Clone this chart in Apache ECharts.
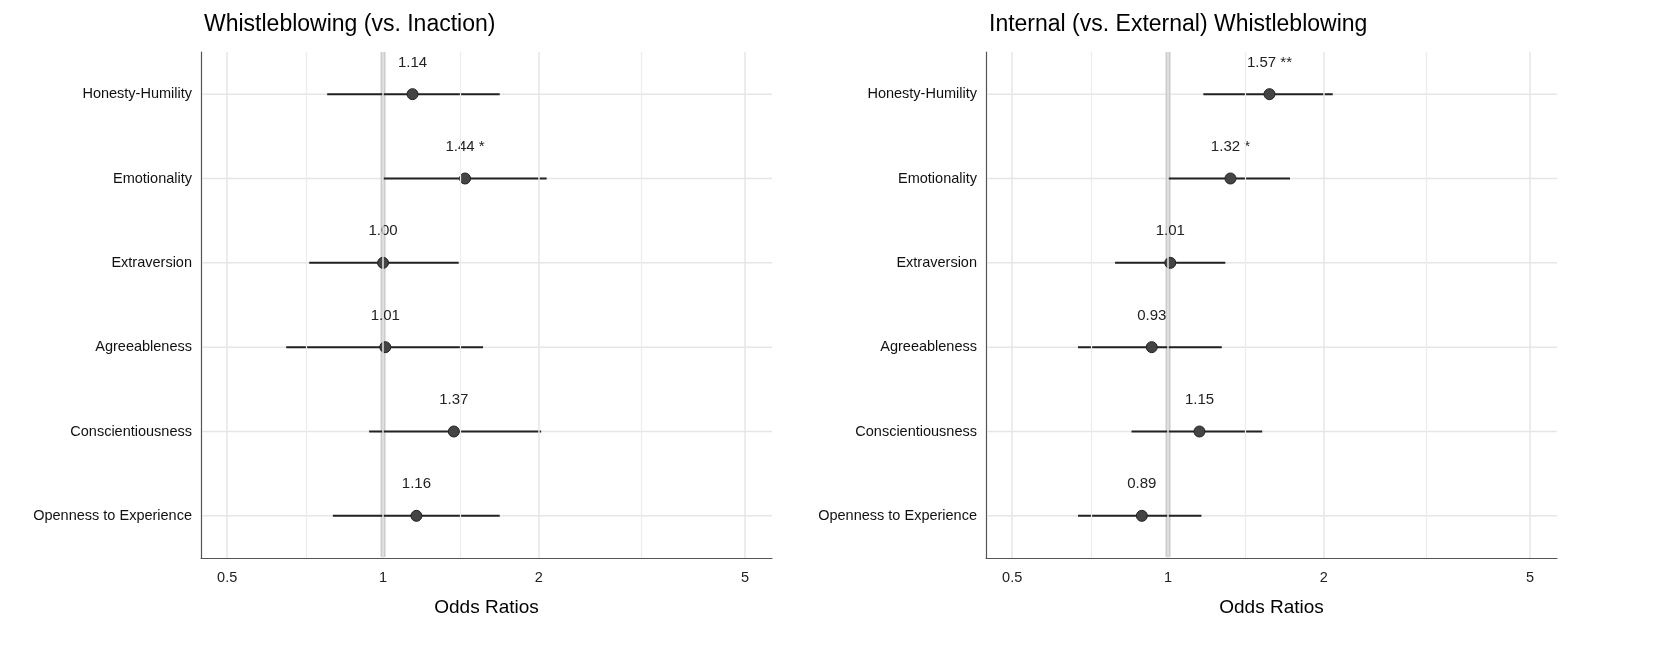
<!DOCTYPE html>
<html>
<head>
<meta charset="utf-8">
<script src="https://cdn.jsdelivr.net/npm/echarts@6/dist/echarts.min.js"></script>
<style>html,body{margin:0;padding:0;background:#fff}#chart{width:1654px;height:651px}</style>
</head>
<body>
<div id="chart"></div>
<script>
// 类别（自上而下）
const traits = ['Honesty-Humility', 'Emotionality', 'Extraversion', 'Agreeableness', 'Conscientiousness', 'Openness to Experience'];
const titles = ['Whistleblowing (vs. Inaction)', 'Internal (vs. External) Whistleblowing'];
// 左图：估计值 / 置信区间 / 显著性
const orLeft = [1.14, 1.44, 1.00, 1.01, 1.37, 1.16];
const lowLeft = [0.78, 1.00, 0.72, 0.65, 0.94, 0.80];
const highLeft = [1.68, 2.07, 1.40, 1.56, 2.02, 1.68];
const sigLeft = ['', '*', '', '', '', ''];
// 右图
const orRight = [1.57, 1.32, 1.01, 0.93, 1.15, 0.89];
const lowRight = [1.17, 1.00, 0.79, 0.67, 0.85, 0.67];
const highRight = [2.08, 1.72, 1.29, 1.27, 1.52, 1.16];
const sigRight = ['**', '*', '', '', '', ''];
// 刻度
const tickMajor = [0.5, 1, 2, 5];
const tickMinor = [0.7071, 1.4142, 3.1623];

const font = 'Arial, "Liberation Sans", sans-serif';
const xMin = 0.445, xMax = 5.64;
const panels = [
  {left: 201, or: orLeft, low: lowLeft, high: highLeft, sig: sigLeft},
  {left: 986, or: orRight, low: lowRight, high: highRight, sig: sigRight}
];

const grid = [], xAxis = [], yAxis = [], series = [], title = [];
panels.forEach((p, i) => {
  grid.push({left: p.left, width: 571, top: 52, height: 506});
  title.push({text: titles[i], left: p.left - 2, top: 8, textStyle: {fontFamily: font, fontSize: 23, fontWeight: 'normal', color: '#000'}});
  xAxis.push({
    type: 'log', gridIndex: i, min: xMin, max: xMax,
    name: 'Odds Ratios', nameLocation: 'middle', nameGap: 40,
    nameTextStyle: {fontFamily: font, fontSize: 19, color: '#000'},
    axisLabel: {show: false}, axisTick: {show: false}, splitLine: {show: false},
    axisLine: {show: true, onZero: false, lineStyle: {color: '#555', width: 1.2}}
  });
  yAxis.push({
    type: 'category', gridIndex: i, data: traits, inverse: true,
    axisTick: {show: false},
    axisLine: {show: true, onZero: false, lineStyle: {color: '#555', width: 1.2}},
    axisLabel: {fontFamily: font, fontSize: 14.5, color: '#111', margin: 9},
    splitLine: {show: false}
  });
  // 网格线和刻度标签
  const gridLines = tickMajor.map(v => ({
    xAxis: v, lineStyle: {color: '#e6e6e6', width: 1.5, type: 'solid'},
    label: {show: true, position: 'end', distance: 12, formatter: String(v), fontFamily: font, fontSize: 14.5, color: '#222'}
  })).concat(tickMinor.map(v => ({
    xAxis: v, lineStyle: {color: '#ececec', width: 1.2, type: 'solid'}, label: {show: false}
  })));
  series.push({
    type: 'line', xAxisIndex: i, yAxisIndex: i, data: [], z: 1,
    markLine: {silent: true, symbol: 'none', animation: false, data: gridLines}
  });
  // 横向网格线
  series.push({
    type: 'custom', xAxisIndex: i, yAxisIndex: i, z: 1, silent: true,
    data: traits.map((t, k) => [k]),
    renderItem: (params, api) => {
      const c = api.coord([xMin, api.value(0)]);
      const c2 = api.coord([xMax, api.value(0)]);
      return {type: 'line', shape: {x1: c[0] + 1, y1: c[1], x2: c2[0], y2: c2[1]}, style: {stroke: '#e6e6e6', lineWidth: 1.5}};
    }
  });
  // 参考线 OR = 1
  series.push({
    type: 'custom', xAxisIndex: i, yAxisIndex: i, z: 2, silent: true,
    data: [[1]],
    renderItem: (params, api) => {
      const x = api.coord([api.value(0), 0])[0];
      const cs = params.coordSys;
      return {type: 'line', shape: {x1: x, y1: cs.y, x2: x, y2: cs.y + cs.height - 1}, style: {stroke: '#cccccc', lineWidth: 5}};
    }
  });
  // 置信区间
  series.push({
    type: 'custom', xAxisIndex: i, yAxisIndex: i, z: 3,
    data: traits.map((t, k) => [p.low[k], p.high[k], k]),
    renderItem: (params, api) => {
      const a = api.coord([api.value(0), api.value(2)]);
      const b = api.coord([api.value(1), api.value(2)]);
      return {type: 'line', shape: {x1: a[0], y1: a[1], x2: b[0], y2: b[1]}, style: {stroke: '#222', lineWidth: 2}};
    }
  });
  // 点估计
  series.push({
    type: 'scatter', xAxisIndex: i, yAxisIndex: i, z: 4, symbolSize: 11,
    itemStyle: {color: '#444', borderColor: '#222', borderWidth: 1, opacity: 1},
    data: traits.map((t, k) => [p.or[k], k]),
    label: {
      show: true, position: 'top', distance: 18, fontFamily: font, fontSize: 15, color: '#222',
      formatter: d => p.or[d.dataIndex].toFixed(2) + (p.sig[d.dataIndex] ? ' ' + p.sig[d.dataIndex] : '')
    }
  });
});

const chart = echarts.init(document.getElementById('chart'));
chart.setOption({animation: false, backgroundColor: '#fff', title, grid, xAxis, yAxis, series});
</script>
</body>
</html>
